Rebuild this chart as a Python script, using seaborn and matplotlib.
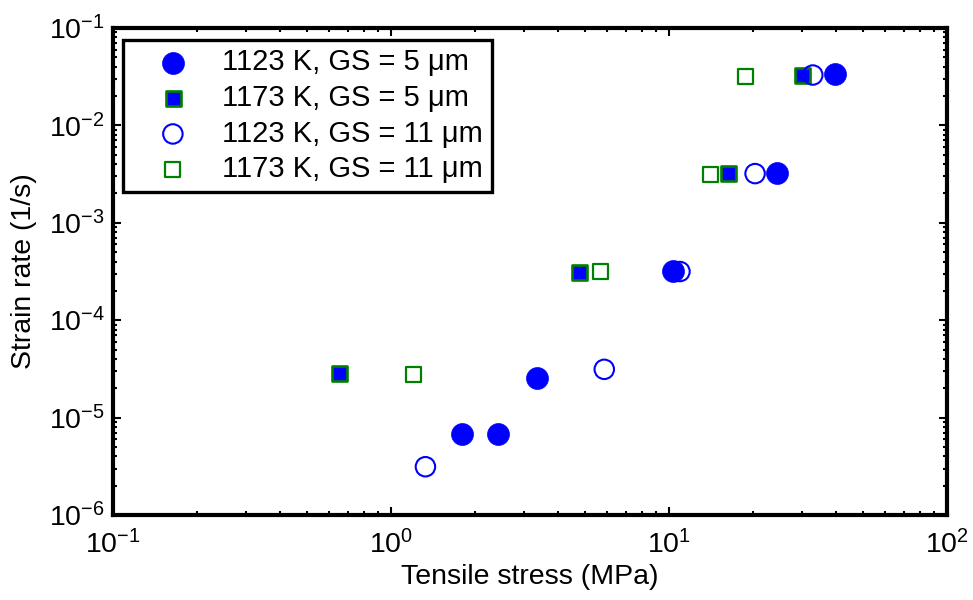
import numpy as np
import pandas as pd
import matplotlib
matplotlib.use("Agg")
import matplotlib.pyplot as plt
import seaborn as sns

# ---- data ----
stress_1123_gs5 = [1.80, 2.42, 3.35, 10.3, 24.5, 39.5]
rate_1123_gs5 = [6.84e-6, 6.84e-6, 2.55e-5, 3.2e-4, 3.25e-3, 3.35e-2]

stress_1173_gs5 = [0.650, 4.75, 16.3, 30.2]
rate_1173_gs5 = [2.85e-5, 3.16e-4, 3.25e-3, 3.29e-2]

stress_1123_gs11 = [1.33, 5.85, 10.95, 20.4, 32.9]
rate_1123_gs11 = [3.13e-6, 3.13e-5, 3.16e-4, 3.2e-3, 3.29e-2]

stress_1173_gs11 = [1.20, 5.69, 14.08, 18.8]
rate_1173_gs11 = [2.76e-5, 3.16e-4, 3.15e-3, 3.16e-2]

labels = ["1123 K, GS = 5 μm", "1173 K, GS = 5 μm",
          "1123 K, GS = 11 μm", "1173 K, GS = 11 μm"]

x_label = "Tensile stress (MPa)"
y_label = "Strain rate (1/s)"

sns.set_theme(style="white")
plt.rcParams["font.family"] = ["Liberation Sans", "DejaVu Sans"]
plt.rcParams["mathtext.fontset"] = "custom"
plt.rcParams["mathtext.rm"] = "Liberation Sans"
plt.rcParams["mathtext.it"] = "Liberation Sans:italic"
plt.rcParams["mathtext.bf"] = "Liberation Sans:bold"
for key in ["text.color", "axes.labelcolor", "xtick.color", "ytick.color", "axes.edgecolor"]:
    plt.rcParams[key] = "black"

BLUE = (0, 0, 1)
GREEN = (0, 0.5, 0)

fig = plt.figure(figsize=(9.73, 6.0), dpi=100)
ax = fig.add_axes([113 / 973, 85 / 600, 834 / 973, 487 / 600])

d1 = pd.DataFrame({"x": stress_1123_gs5, "y": rate_1123_gs5})
d2 = pd.DataFrame({"x": stress_1173_gs5, "y": rate_1173_gs5})
d3 = pd.DataFrame({"x": stress_1123_gs11, "y": rate_1123_gs11})
d4 = pd.DataFrame({"x": stress_1173_gs11, "y": rate_1173_gs11})

sns.scatterplot(data=d1, x="x", y="y", ax=ax, marker="o", s=15.8**2,
                color=BLUE, edgecolor=BLUE, linewidth=0.5, label=labels[0], zorder=5)
sns.scatterplot(data=d2, x="x", y="y", ax=ax, marker="s", s=10.8**2,
                color=BLUE, edgecolor=GREEN, linewidth=1.9, label=labels[1], zorder=3)
sns.scatterplot(data=d3, x="x", y="y", ax=ax, marker="o", s=14.0**2,
                facecolor="none", edgecolor=BLUE, linewidth=1.5, label=labels[2], zorder=4)
sns.scatterplot(data=d4, x="x", y="y", ax=ax, marker="s", s=10.8**2,
                facecolor="none", edgecolor=GREEN, linewidth=1.6, label=labels[3], zorder=2)

ax.set_xscale("log")
ax.set_yscale("log")
ax.set_xlim(0.1, 100)
ax.set_ylim(1e-6, 1e-1)

ax.set_xlabel(x_label, fontsize=20.5, labelpad=3)
ax.set_ylabel(y_label, fontsize=20.5, labelpad=8)

for sp in ax.spines.values():
    sp.set_linewidth(3.0)
    sp.set_color("black")
    sp.set_visible(True)

ax.xaxis.set_major_locator(matplotlib.ticker.LogLocator(base=10, numticks=10))
ax.yaxis.set_major_locator(matplotlib.ticker.LogLocator(base=10, numticks=10))
ax.xaxis.set_minor_locator(matplotlib.ticker.LogLocator(base=10, subs=np.arange(2, 10), numticks=20))
ax.yaxis.set_minor_locator(matplotlib.ticker.LogLocator(base=10, subs=np.arange(2, 10), numticks=20))
ax.yaxis.set_minor_formatter(matplotlib.ticker.NullFormatter())
ax.xaxis.set_minor_formatter(matplotlib.ticker.NullFormatter())

ax.tick_params(axis="both", which="both", direction="in", top=True, right=True,
               bottom=True, left=True, colors="black")
ax.tick_params(axis="both", which="major", length=6, width=1.5, labelsize=20.5)
ax.tick_params(axis="both", which="minor", length=3, width=1.5)
ax.tick_params(axis="x", which="major", pad=11)
ax.tick_params(axis="y", which="major", pad=6)

leg = ax.legend(loc="upper left", bbox_to_anchor=(0.012, 0.976), borderaxespad=0,
                fontsize=21, frameon=True, fancybox=False, framealpha=1,
                edgecolor="black", borderpad=0.3, handlelength=2.82,
                handletextpad=0.28, labelspacing=0.26, scatterpoints=1)
leg.get_frame().set_linewidth(2.4)
for t in leg.get_texts():
    t.set_color("black")

fig.savefig("out.png", dpi=100, facecolor="white")
